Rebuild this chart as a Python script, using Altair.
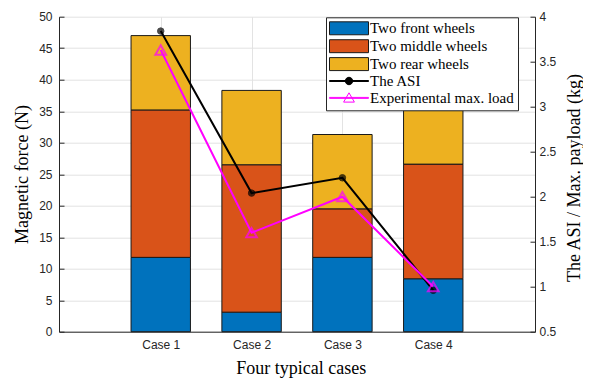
import json
import altair as alt
import pandas as pd

# ---------------- data ----------------
cases = ["Case 1", "Case 2", "Case 3", "Case 4"]
case_pos = [1, 2, 3, 4]
bar_series = ["Two front wheels", "Two middle wheels", "Two rear wheels"]
front = [11.8, 3.1, 11.8, 8.4]
middle = [23.4, 23.4, 7.7, 18.2]
rear = [11.8, 11.8, 11.8, 8.6]
asi_name = "The ASI"
load_name = "Experimental max. load"
asi = [3.84, 2.04, 2.21, 0.96]
max_load = [3.63, 1.60, 2.00, 1.00]
left_ticks = [0, 5, 10, 15, 20, 25, 30, 35, 40, 45, 50]
right_ticks = [0.5, 1, 1.5, 2, 2.5, 3, 3.5, 4]

# ---------------- tables ----------------
BAR_HALF = 0.327
rows = []
for i, p in enumerate(case_pos):
    base = 0.0
    for name, vals in zip(bar_series, [front, middle, rear]):
        rows.append({"case": cases[i], "pos": p, "xl": p - BAR_HALF, "xr": p + BAR_HALF,
                     "series": name, "y0": base, "y1": base + vals[i]})
        base += vals[i]
bars_df = pd.DataFrame(rows)

line_rows = []
for name, vals in [(asi_name, asi), (load_name, max_load)]:
    for i, p in enumerate(case_pos):
        line_rows.append({"case": cases[i], "pos": p, "series": name, "value": vals[i]})
lines_df = pd.DataFrame(line_rows)

# ---------------- styles ----------------
domain = bar_series + [asi_name, load_name]
RECT = "M-3.25,-1.08H3.25V1.08H-3.25Z"
LINE = "M-3.25,-0.08H3.25V0.08H-3.25Z"
ASI_SYM = LINE + " M0.62,0A0.62,0.62,0,1,1,-0.62,0A0.62,0.62,0,1,1,0.62,0Z"
LOAD_SYM = LINE + " M0,-0.85L0.9,0.7L-0.9,0.7Z"
FILL_RANGE = ["#0072BD", "#D95319", "#EDB120", "#000000", "transparent"]
STROKE_RANGE = ["#1a1a1a", "#1a1a1a", "#1a1a1a", "#000000", "#FF00FF"]
SHAPE_RANGE = [RECT, RECT, RECT, ASI_SYM, LOAD_SYM]

GRID = "#e3e3e3"
AX = "#262626"
SANS = "Liberation Sans"
SERIF = "Liberation Serif"

LEG = alt.Legend(
    title=None, orient="none", legendX=267, legendY=0.6,
    padding=3.5, rowPadding=0.9, symbolSize=144, symbolStrokeWidth=1,
    symbolOffset=12, labelOffset=13.5,
    symbolFillColor="black", symbolStrokeColor="black", symbolOpacity=1,
    labelFont=SERIF, labelFontSize=15, labelColor="black", labelLimit=400,
    strokeColor=AX, fillColor="white", cornerRadius=0,
)
FILL = alt.Fill("series:N", scale=alt.Scale(domain=domain, range=FILL_RANGE), legend=LEG)
STROKE = alt.Stroke("series:N", scale=alt.Scale(domain=domain, range=STROKE_RANGE), legend=LEG)
SHAPE = alt.Shape("series:N", scale=alt.Scale(domain=domain, range=SHAPE_RANGE), legend=LEG)

XSCALE = alt.Scale(domain=[-0.12, 5.12], nice=False, zero=False)
XAXIS = alt.Axis(
    values=case_pos, labelExpr=json.dumps(cases) + "[datum.value - 1]",
    grid=True, gridColor=GRID, ticks=False, domainColor=AX,
    labelFont=SANS, labelFontSize=12, labelColor=AX, labelPadding=8,
    title="Four typical cases", titleFont=SERIF, titleFontSize=18, titleFontWeight="normal",
    titleColor="black", titleX=241.7, titleY=41.4, titleBaseline="alphabetic",
    titleAlign="center", titleAngle=0,
)
LSCALE = alt.Scale(domain=[0, 50], nice=False, zero=False)
RSCALE = alt.Scale(domain=[0.5, 4], nice=False, zero=False)

LAXIS = alt.Axis(
    orient="left", values=left_ticks, grid=True, gridColor=GRID, ticks=False,
    domainColor=AX, labelFont=SANS, labelFontSize=12, labelColor=AX, labelPadding=7,
    title="Magnetic force (N)", titleFont=SERIF, titleFontSize=18, titleFontWeight="normal",
    titleColor="black", titleAngle=270, titleX=-31.2, titleY=157.3,
    titleBaseline="alphabetic", titleAlign="center",
)
LTICKS = alt.Axis(
    orient="left", values=left_ticks, grid=True, gridColor=AX, gridDash=[5, 2000],
    labels=False, ticks=False, domain=False, title=None,
)
RAXIS = alt.Axis(
    orient="right", values=right_ticks, format="~g", grid=True, gridColor=AX,
    gridDash=[5, 2000], ticks=False, domainColor=AX,
    labelFont=SANS, labelFontSize=12, labelColor=AX, labelPadding=4,
    title="The ASI / Max. payload (kg)", titleFont=SERIF, titleFontSize=18,
    titleFontWeight="normal", titleColor="black", titleAngle=270, titleX=44.5,
    titleY=160.8, titleBaseline="alphabetic", titleAlign="center",
)

# ---------------- layers ----------------
bars = alt.Chart(bars_df).mark_bar(strokeWidth=1).encode(
    x=alt.X("xl:Q", scale=XSCALE, axis=XAXIS),
    x2="xr:Q",
    y=alt.Y("y0:Q", scale=LSCALE, axis=LAXIS),
    y2="y1:Q",
    fill=FILL,
    stroke=STROKE,
)

left_ticks_layer = alt.Chart(bars_df).mark_point(opacity=0).encode(
    x=alt.X("pos:Q", scale=XSCALE, axis=XAXIS),
    y=alt.Y("y1:Q", scale=LSCALE, axis=LTICKS),
)

YR = alt.Y("value:Q", scale=RSCALE, axis=RAXIS)
XP = alt.X("pos:Q", scale=XSCALE, axis=XAXIS)

legend_pts = alt.Chart(lines_df).mark_point(opacity=0, filled=True, size=0).encode(
    x=XP, y=YR, fill=FILL, stroke=STROKE, shape=SHAPE,
)
lines = alt.Chart(lines_df).mark_line(strokeWidth=2).encode(
    x=XP, y=YR, stroke=STROKE,
)
asi_pts = alt.Chart(lines_df).transform_filter(
    alt.datum.series == asi_name
).mark_point(filled=True, shape="circle", size=42, strokeWidth=1).encode(
    x=XP, y=YR, fill=FILL, stroke=STROKE,
)
load_pts = alt.Chart(lines_df).transform_filter(
    alt.datum.series == load_name
).mark_point(filled=True, shape="triangle-up", size=115, strokeWidth=2).encode(
    x=XP, y=YR, fill=FILL, stroke=STROKE,
)

right_group = alt.layer(legend_pts, lines, asi_pts, load_pts)

chart = alt.layer(bars, left_ticks_layer, right_group).resolve_scale(
    y="independent"
).properties(
    width=476,
    height=315,
    padding={"left": 51, "top": 8.7, "right": 48, "bottom": 46.3},
    autosize=alt.AutoSizeParams(type="none"),
).configure_view(stroke=None)

chart.save("out.html", embed_options={"renderer": "svg", "actions": False})
